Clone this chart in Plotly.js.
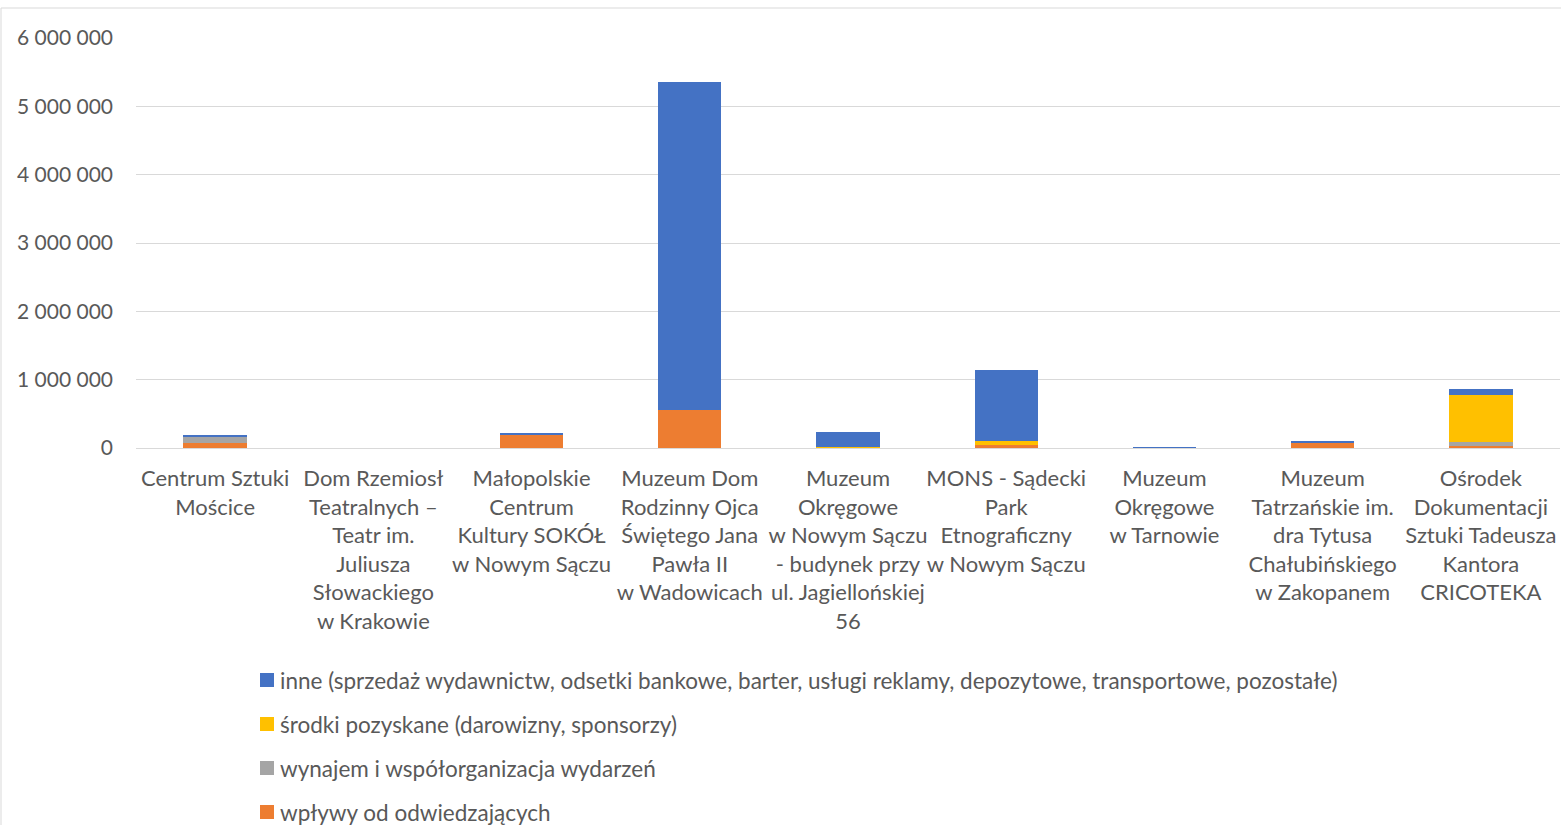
<!DOCTYPE html>
<html>
<head>
<meta charset="utf-8">
<script src="https://cdn.plot.ly/plotly-3.0.1.min.js"></script>
<style>
html,body{margin:0;padding:0;background:#fff;}
#chart{width:1561px;height:825px;}
</style>
</head>
<body>
<div id="chart"></div>
<script>
const categories = [
  "Centrum Sztuki<br>Mościce",
  "Dom Rzemiosł<br>Teatralnych –<br>Teatr im.<br>Juliusza<br>Słowackiego<br>w Krakowie",
  "Małopolskie<br>Centrum<br>Kultury SOKÓŁ<br>w Nowym Sączu",
  "Muzeum Dom<br>Rodzinny Ojca<br>Świętego Jana<br>Pawła II<br>w Wadowicach",
  "Muzeum<br>Okręgowe<br>w Nowym Sączu<br>- budynek przy<br>ul. Jagiellońskiej<br>56",
  "MONS - Sądecki<br>Park<br>Etnograficzny<br>w Nowym Sączu",
  "Muzeum<br>Okręgowe<br>w Tarnowie",
  "Muzeum<br>Tatrzańskie im.<br>dra Tytusa<br>Chałubińskiego<br>w Zakopanem",
  "Ośrodek<br>Dokumentacji<br>Sztuki Tadeusza<br>Kantora<br>CRICOTEKA"
];
const wplywy  = [78000, 0, 186000, 556000, 5000, 48000, 2000, 73000, 29000];
const wynajem = [83000, 0, 0, 0, 0, 0, 3000, 0, 54000];
const srodki  = [0, 0, 0, 0, 10000, 54000, 0, 0, 688000];
const inne    = [25000, 0, 30000, 4800000, 215000, 1040000, 10000, 29000, 92000];

const seriesNames = [
  "wpływy od odwiedzających",
  "wynajem i współorganizacja wydarzeń",
  "środki pozyskane (darowizny, sponsorzy)",
  "inne (sprzedaż wydawnictw, odsetki bankowe, barter, usługi reklamy, depozytowe, transportowe, pozostałe)"
];
const seriesColors = ["#ED7D31", "#A5A5A5", "#FFC000", "#4472C4"];
const seriesData = [wplywy, wynajem, srodki, inne];
const tickVals = [0, 1000000, 2000000, 3000000, 4000000, 5000000, 6000000];
const tickText = ["0", "1 000 000", "2 000 000", "3 000 000", "4 000 000", "5 000 000", "6 000 000"];

const traces = seriesData.map((d, i) => ({
  type: "bar",
  x: categories,
  y: d,
  name: seriesNames[i],
  marker: {color: seriesColors[i], line: {width: 0}},
  hoverinfo: "skip",
  showlegend: false
}));

const fam = "Lato, 'Open Sans', sans-serif";
const font = {family: fam, size: 22.5, color: "#595959"};
const xfont = {family: fam, size: 22, color: "#595959"};
const yfont = {family: fam, size: 21, color: "#595959"};

// plot area in pixels: x 136..1560, y 38..448
const L = 136, W = 1424, T = 38, H = 410;
const px2x = p => (p - L) / W;
const px2y = p => (T + H - p) / H;

// manual legend (Excel order: top = last series)
const legendCenters = [812, 768, 724, 680];
const shapes = [{
  type: "rect", xref: "paper", yref: "paper",
  x0: px2x(1), x1: px2x(1600), y0: px2y(900), y1: px2y(8),
  line: {color: "#D9D9D9", width: 1}, fillcolor: "rgba(0,0,0,0)", layer: "below"
}];
const annotations = [];
seriesNames.forEach((n, i) => {
  const cy = legendCenters[i];
  shapes.push({
    type: "rect", xref: "paper", yref: "paper",
    x0: px2x(260), x1: px2x(274), y0: px2y(cy + 7), y1: px2y(cy - 7),
    line: {width: 0}, fillcolor: seriesColors[i]
  });
  annotations.push({
    xref: "paper", yref: "paper", x: px2x(278), y: px2y(cy),
    xanchor: "left", yanchor: "middle", showarrow: false,
    text: n, font: font
  });
});

const layout = {
  width: 1561, height: 825,
  barmode: "stack",
  bargap: 0.6,
  paper_bgcolor: "#fff",
  plot_bgcolor: "#fff",
  font: font,
  showlegend: false,
  margin: {l: L, r: 1561 - L - W, t: T, b: 825 - T - H},
  xaxis: {
    type: "category",
    tickfont: xfont,
    tickangle: 0,
    ticks: "",
    showgrid: false,
    showline: false,
    ticklabelstandoff: 15,
    automargin: false
  },
  yaxis: {
    range: [0, 6000000],
    tickvals: tickVals,
    ticktext: tickText,
    tickfont: yfont,
    gridcolor: "#D9D9D9",
    gridwidth: 1,
    zeroline: true,
    zerolinecolor: "#D9D9D9",
    zerolinewidth: 1,
    ticks: "",
    ticklabelstandoff: 22,
    automargin: false
  },
  shapes: shapes,
  annotations: annotations
};

Plotly.newPlot("chart", traces, layout, {displayModeBar: false, staticPlot: true});
</script>
</body>
</html>
